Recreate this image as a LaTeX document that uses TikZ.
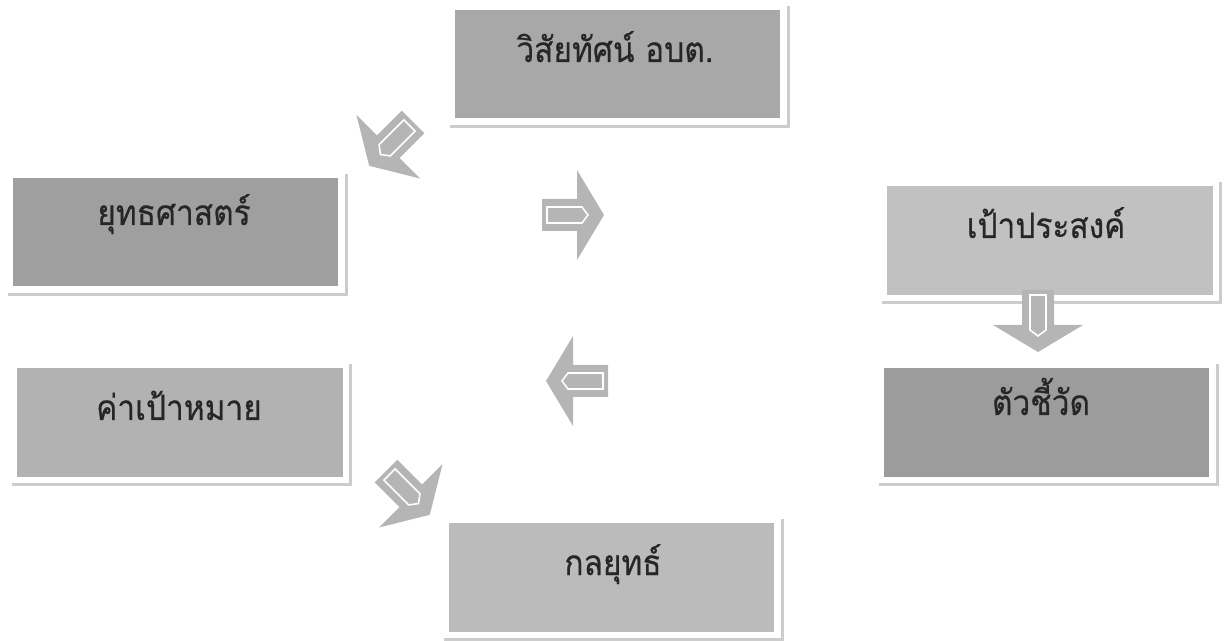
\documentclass[tikz,border=0pt]{standalone}
\usepackage{fontspec}
\newfontfamily\thaifont[Script=Thai, FakeBold=0.5, FakeStretch=0.9]{Loma}
\usetikzlibrary{positioning}

\begin{document}
\begin{tikzpicture}[x=0.02cm, y=-0.02cm, line width=1pt,
    box/.style={rectangle, minimum width=6.52cm, minimum height=2.18cm, inner sep=0pt},
    lbl/.style={anchor=base, text=black!85, font=\thaifont\fontsize{20}{22}\selectfont},
    shade/.style={draw=gray!40, line width=1.6pt},
    pics/blkarrow/.style={code={
        \fill[gray!58] (0,-16) -- (35,-16) -- (35,-45) -- (62,0) -- (35,45) -- (35,16) -- (0,16) -- cycle;
        \draw[white, line width=0.9pt] (5,-8) -- (40,-8) -- (46,0) -- (40,8) -- (5,8) -- cycle;
    }}]
        \useasboundingbox (0,0) rectangle (1227,641);

        % Boxes
        \node[box, fill=gray!68] (vision) at (617.5,64) {};
        \node[box, fill=gray!75] (strategy) at (175.5,232) {};
        \node[box, fill=gray!49] (objective) at (1050,240.5) {};
        \node[box, fill=gray!78] (indicator) at (1046.5,422.5) {};
        \node[box, fill=gray!60] (target) at (180,422.5) {};
        \node[box, fill=gray!53] (tactic) at (611.5,577.5) {};

        % Shadow edges
        \foreach \b in {vision, strategy, objective, indicator, target, tactic}
            \draw[shade] ([shift={(-4,7)}]\b.south west) -- ([shift={(7,7)}]\b.south east) -- ([shift={(7,-3)}]\b.north east);

        % Labels
        \node[lbl] (visionLbl) at (615,62) {วิสัยทัศน์ อบต.};
        \node[lbl] (strategyLbl) at (174,225) {ยุทธศาสตร์};
        \node[lbl] (objectiveLbl) at (1046,238) {เป้าประสงค์};
        \node[lbl] (indicatorLbl) at (1041,415) {ตัวชี้วัด};
        \node[lbl] (targetLbl) at (179,420) {ค่าเป้าหมาย};
        \node[lbl] (tacticLbl) at (613,575) {กลยุทธ์};

        % Block arrows
        \pic[rotate=-135] (toStrategy) at (413,122) {blkarrow};
        \pic (toRight) at (542,215) {blkarrow};
        \pic[rotate=180] (toLeft) at (608,381) {blkarrow};
        \pic[rotate=-45] (toTactic) at (386,471) {blkarrow};
        \pic[rotate=-90] (toIndicator) at (1038,290) {blkarrow};

    \end{tikzpicture}
\end{document}
